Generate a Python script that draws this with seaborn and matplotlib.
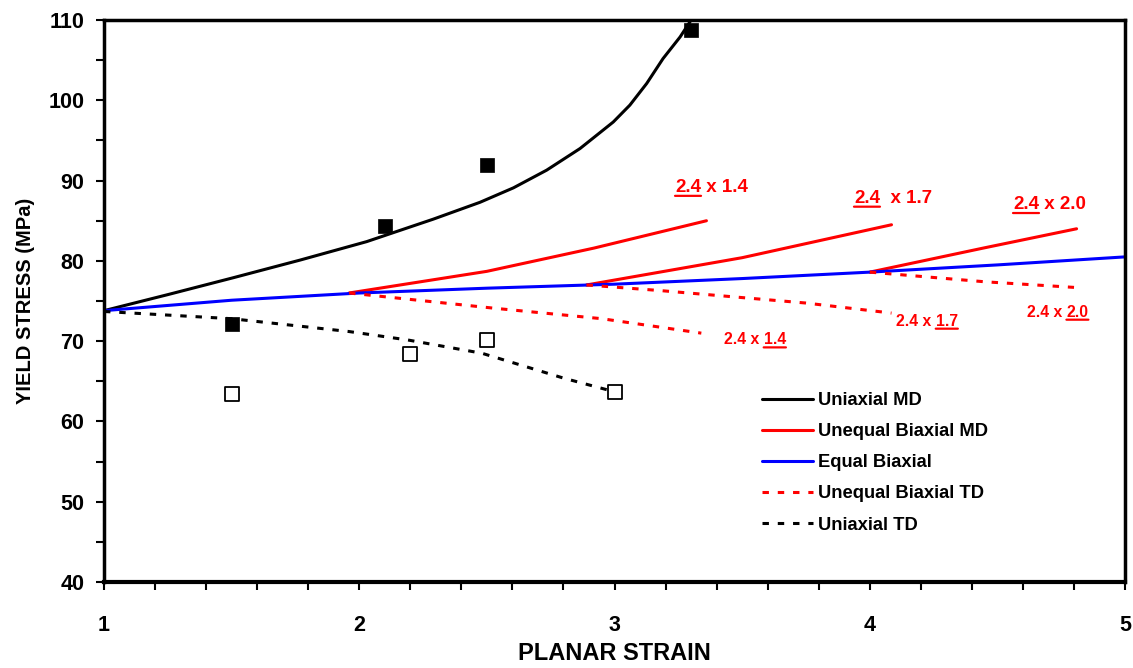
import numpy as np
import pandas as pd
import matplotlib
matplotlib.use("Agg")
import matplotlib.pyplot as plt
from matplotlib.ticker import MultipleLocator
import seaborn as sns

# curves (planar strain, yield stress MPa)
uni_md_x = [1.0, 1.25, 1.506, 1.768, 2.029, 2.29, 2.473, 2.604, 2.734, 2.865,
            2.995, 3.06, 3.126, 3.19, 3.257, 3.30]
uni_md_y = [73.8, 75.8, 77.9, 80.1, 82.4, 85.2, 87.3, 89.1, 91.3, 94.0,
            97.3, 99.4, 102.1, 105.2, 107.9, 110.0]

uni_td_x = [1.0, 1.5, 1.96, 2.19, 2.48, 2.8, 3.0]
uni_td_y = [73.7, 72.8, 71.2, 70.15, 68.5, 65.4, 63.7]

eq_bi_x = [1.0, 1.5, 2.0, 2.5, 3.0, 3.5, 4.0, 4.5, 5.0]
eq_bi_y = [73.8, 75.1, 76.0, 76.6, 77.1, 77.8, 78.6, 79.5, 80.5]

# unequal biaxial MD, one per stretch ratio
ub_md = {
    "2.4 x 1.4": ([1.96, 2.5, 2.92, 3.36], [76.0, 78.7, 81.6, 85.0]),
    "2.4 x 1.7": ([2.89, 3.5, 4.085], [77.0, 80.4, 84.5]),
    "2.4 x 2.0": ([4.0, 4.445, 4.81], [78.6, 81.6, 84.0]),
}
# unequal biaxial TD
ub_td = {
    "2.4 x 1.4": ([1.96, 2.53, 2.95, 3.34], [76.0, 74.1, 72.8, 71.0]),
    "2.4 x 1.7": ([2.89, 3.18, 3.75, 4.085], [77.0, 76.3, 74.75, 73.5]),
    "2.4 x 2.0": ([4.0, 4.45, 4.8], [78.6, 77.4, 76.7]),
}

# measured points
md_pts_x = [1.5, 2.1, 2.5, 3.3]
md_pts_y = [72.1, 84.3, 91.9, 108.8]
td_pts_x = [1.5, 2.2, 2.5, 3.0]
td_pts_y = [63.4, 68.4, 70.1, 63.7]

sns.set_style("ticks")
plt.rcParams['font.family'] = ['Liberation Sans', 'DejaVu Sans']
plt.rcParams['font.weight'] = 'bold'
for key in ['text.color', 'axes.labelcolor', 'xtick.color', 'ytick.color']:
    plt.rcParams[key] = 'black'

fig = plt.figure(figsize=(11.33, 6.68), dpi=100)
ax = fig.add_axes([0.0918, 0.1287, 0.9012, 0.8413])

LW = 2.2
dash = (2.1, 2.9)

sns.lineplot(x=uni_md_x, y=uni_md_y, sort=False, color="black", lw=LW,
             label="Uniaxial MD", ax=ax)
for i, (k, (xs, ys)) in enumerate(ub_md.items()):
    sns.lineplot(x=xs, y=ys, sort=False, color="red", lw=LW,
                 label="Unequal Biaxial MD" if i == 0 else None, ax=ax)
sns.lineplot(x=eq_bi_x, y=eq_bi_y, sort=False, color="blue", lw=LW,
             label="Equal Biaxial", ax=ax)
for i, (k, (xs, ys)) in enumerate(ub_td.items()):
    sns.lineplot(x=xs, y=ys, sort=False, color="red", lw=LW,
                 label="Unequal Biaxial TD" if i == 0 else None, ax=ax)
sns.lineplot(x=uni_td_x, y=uni_td_y, sort=False, color="black", lw=LW,
             label="Uniaxial TD", ax=ax)

# TD curves are dashed
for ln in ax.get_lines()[5:9]:
    ln.set_dashes(dash)

sns.scatterplot(x=md_pts_x, y=md_pts_y, marker="s", s=110, color="black",
                edgecolor="black", linewidth=0.5, ax=ax, zorder=5, legend=False)
sns.scatterplot(x=td_pts_x, y=td_pts_y, marker="s", s=95, facecolor="white",
                edgecolor="black", linewidth=1.3, ax=ax, zorder=5, legend=False)


def label_parts(x, y, parts, size):
    # parts: list of (text, underline)
    prev = None
    for txt, ul in parts:
        if prev is None:
            t = ax.text(x, y, txt, color="red", fontsize=size, fontweight="bold",
                        ha="left", va="baseline")
        else:
            t = ax.annotate(txt, xy=(1, 0), xycoords=prev, color="red",
                            fontsize=size, fontweight="bold", ha="left", va="bottom")
        if ul:
            ax.annotate("", xy=(0, 0.0), xycoords=t, xytext=(1, 0.0), textcoords=t,
                        arrowprops=dict(arrowstyle="-", color="red", lw=1.6,
                                        shrinkA=0, shrinkB=0))
        prev = t


label_parts(3.237, 88.6, [("2.4", True), (" x 1.4", False)], 13.5)
label_parts(3.938, 87.25, [("2.4", True), ("  x 1.7", False)], 13.5)
label_parts(4.561, 86.46, [("2.4", True), (" x 2.0", False)], 13.5)
label_parts(3.429, 69.6, [("2.4 x ", False), ("1.4", True)], 11.3)
label_parts(4.103, 71.93, [("2.4 x ", False), ("1.7", True)], 11.3)
label_parts(4.615, 73.05, [("2.4 x ", False), ("2.0", True)], 11.3)

ax.set_xlim(1, 5)
ax.set_ylim(40, 110)
ax.xaxis.set_major_locator(MultipleLocator(1))
ax.xaxis.set_minor_locator(MultipleLocator(0.2))
ax.yaxis.set_major_locator(MultipleLocator(10))
ax.yaxis.set_minor_locator(MultipleLocator(5))
ax.tick_params(which="both", direction="out", width=1.5, length=6, color="black",
               labelsize=15.5, top=False, right=False)
ax.tick_params(axis="y", pad=8)
ax.tick_params(axis="x", pad=18)
for lab in ax.get_xticklabels() + ax.get_yticklabels():
    lab.set_fontweight("bold")
for side in ["left", "bottom", "top", "right"]:
    ax.spines[side].set_linewidth(2.5)
    ax.spines[side].set_color("black")
ax.spines["bottom"].set_linewidth(3)

ax.set_xlabel("PLANAR STRAIN", fontsize=17, fontweight="bold", labelpad=4)
ax.set_ylabel("YIELD STRESS (MPa)", fontsize=14.5, fontweight="bold", labelpad=10)

leg = ax.legend(loc="upper left", bbox_to_anchor=(0.644, 0.338), frameon=False,
                fontsize=13.2, handlelength=2.8, handletextpad=0.28,
                labelspacing=0.77, borderpad=0, borderaxespad=0)
for t in leg.get_texts():
    t.set_fontweight("bold")

fig.savefig("out.png", dpi=100)
